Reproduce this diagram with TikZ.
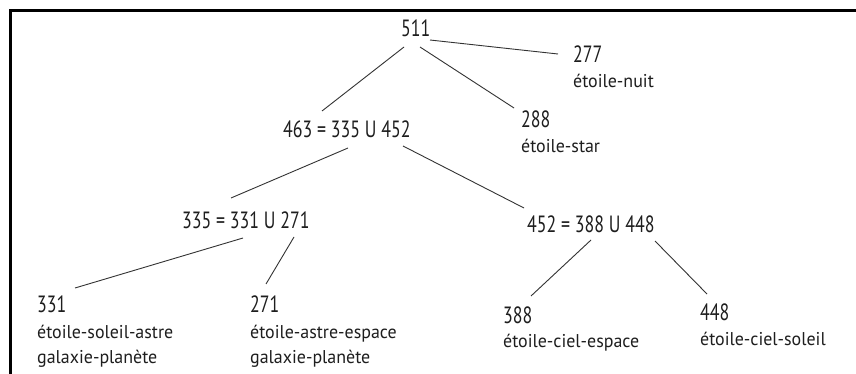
\documentclass[tikz,border=0pt]{standalone}
\usepackage{fontspec}
\newfontfamily\numfont[FakeStretch=0.76]{PT Sans}
\newfontfamily\labfont[FakeStretch=0.97]{PT Sans}
\definecolor{ink}{HTML}{1E1E1E}
\definecolor{edge}{HTML}{333333}
\begin{document}
\begin{tikzpicture}[x=1pt,y=-1pt,
  num/.style={anchor=base west,inner sep=0pt,text=ink,font=\numfont\fontsize{23.5}{26}\selectfont},
  lab/.style={anchor=base west,inner sep=0pt,text=ink,font=\labfont\fontsize{18.5}{21}\selectfont},
  conn/.style={draw=edge,line width=0.9pt}]
\useasboundingbox (0,0) rectangle (856,374);
\clip (0,0) rectangle (856,374);
\fill[white] (0,0) rectangle (856,374);
\draw[line width=3pt,line cap=rect] (10.5,380) -- (10.5,10.5) -- (860,10.5);
% nodes
\node[num] (n511) at (401,37) {511};
\node[num] (n277) at (573,63) {277};
\node[lab] (l277) at (573,88) {étoile-nuit};
\node[num] (n288) at (521,128) {288};
\node[lab] (l288) at (521,153) {étoile-star};
\node[num] (n463) at (283,138) {463 = 335 U 452};
\node[num] (n335) at (182,228) {335 = 331 U 271};
\node[num] (n452) at (527,232) {452 = 388 U 448};
\node[num] (n331) at (37,312) {331};
\node[lab] (l331a) at (37,338) {étoile-soleil-astre};
\node[lab] (l331b) at (37,363) {galaxie-planète};
\node[num] (n271) at (250,312) {271};
\node[lab] (l271a) at (250,338) {étoile-astre-espace};
\node[lab] (l271b) at (250,363) {galaxie-planète};
\node[num] (n388) at (503,323) {388};
\node[lab] (l388) at (503,347) {étoile-ciel-espace};
\node[num] (n448) at (700,320) {448};
\node[lab] (l448) at (700,345) {étoile-ciel-soleil};
% connectors
\draw[conn] ([shift={(29,3)}]n511.base west) -- ([shift={(-15,-9)}]n277.base west);
\draw[conn] ([shift={(3,10)}]n511.base west) -- ([shift={(39,-27)}]n463.base west);
\draw[conn] ([shift={(19,10)}]n511.base west) -- ([shift={(-7,-20)}]n288.base west);
\draw[conn] ([shift={(65,10)}]n463.base west) -- ([shift={(49,-30)}]n335.base west);
\draw[conn] ([shift={(120,8)}]n463.base west) -- ([shift={(-3,-24)}]n452.base west);
\draw[conn] ([shift={(61,10)}]n335.base west) -- ([shift={(38,-24)}]n331.base west);
\draw[conn] ([shift={(112,9)}]n335.base west) -- ([shift={(16,-28)}]n271.base west);
\draw[conn] ([shift={(64,8)}]n452.base west) -- ([shift={(28,-27)}]n388.base west);
\draw[conn] ([shift={(128,9)}]n452.base west) -- ([shift={(7,-26)}]n448.base west);
\end{tikzpicture}
\end{document}
